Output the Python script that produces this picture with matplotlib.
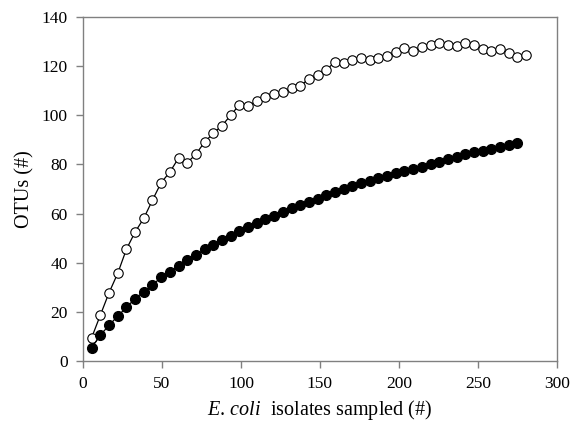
import matplotlib
matplotlib.use("Agg")
import matplotlib.pyplot as plt

plt.rcParams.update({
    "font.family": "Liberation Serif",
    "font.size": 12.5,
    "mathtext.fontset": "custom",
    "mathtext.rm": "Liberation Serif",
    "mathtext.it": "Liberation Serif:italic",
})

# isolates sampled, step of 5.5
x_open = [5.5 * i for i in range(1, 52)]
x_filled = [5.5 * i for i in range(1, 51)]

otus_open = [
    9.5, 18.7, 27.8, 35.7, 45.5, 52.5, 58.1, 65.5, 72.6, 76.9,
    82.6, 80.7, 84.2, 89.1, 92.7, 95.8, 100.0, 104.3, 103.8, 105.8,
    107.6, 108.7, 109.5, 111.0, 111.9, 114.9, 116.4, 118.4, 121.8, 121.1,
    122.5, 123.2, 122.5, 123.2, 124.1, 125.9, 127.3, 126.1, 127.6, 128.6,
    129.3, 128.6, 128.3, 129.3, 128.8, 126.9, 126.3, 126.9, 125.2, 123.9,
    124.5,
]
otus_filled = [
    5.4, 10.6, 14.5, 18.3, 21.8, 25.4, 28.2, 30.9, 34.1, 36.1,
    38.8, 41.1, 43.1, 45.5, 47.2, 49.2, 51.0, 52.8, 54.5, 56.2,
    57.7, 59.1, 60.8, 62.1, 63.5, 64.8, 66.1, 67.4, 68.8, 69.9,
    71.2, 72.3, 73.4, 74.4, 75.4, 76.4, 77.3, 78.2, 79.1, 80.2,
    81.1, 82.2, 83.2, 84.1, 84.9, 85.6, 86.4, 87.2, 88.0, 88.7,
]

fig = plt.figure(figsize=(5.7, 4.33), dpi=100)
ax = fig.add_axes([0.1456, 0.1663, 0.8314, 0.7944])

ax.plot(x_open, otus_open, color="black", linewidth=0.9, marker="o",
        markersize=6.8, markerfacecolor="white", markeredgecolor="black",
        markeredgewidth=0.8, zorder=2)
ax.plot(x_filled, otus_filled, color="black", linewidth=0.9, marker="o",
        markersize=7, markerfacecolor="black", markeredgecolor="black",
        zorder=3)

ax.set_xlim(0, 300)
ax.set_ylim(0, 140)
ax.set_xticks(range(0, 301, 50))
ax.set_yticks(range(0, 141, 20))

for s in ax.spines.values():
    s.set_color("#808080")
    s.set_linewidth(1.0)
ax.tick_params(direction="out", length=5, width=1.0, color="#808080",
               labelsize=12.5, pad=6)

ax.set_xlabel(r"$\it{E.\,coli}$  isolates sampled (#)", fontsize=14.5, labelpad=4)
ax.set_ylabel("OTUs (#)", fontsize=14.5, labelpad=5)

fig.savefig("out.png", dpi=100)
